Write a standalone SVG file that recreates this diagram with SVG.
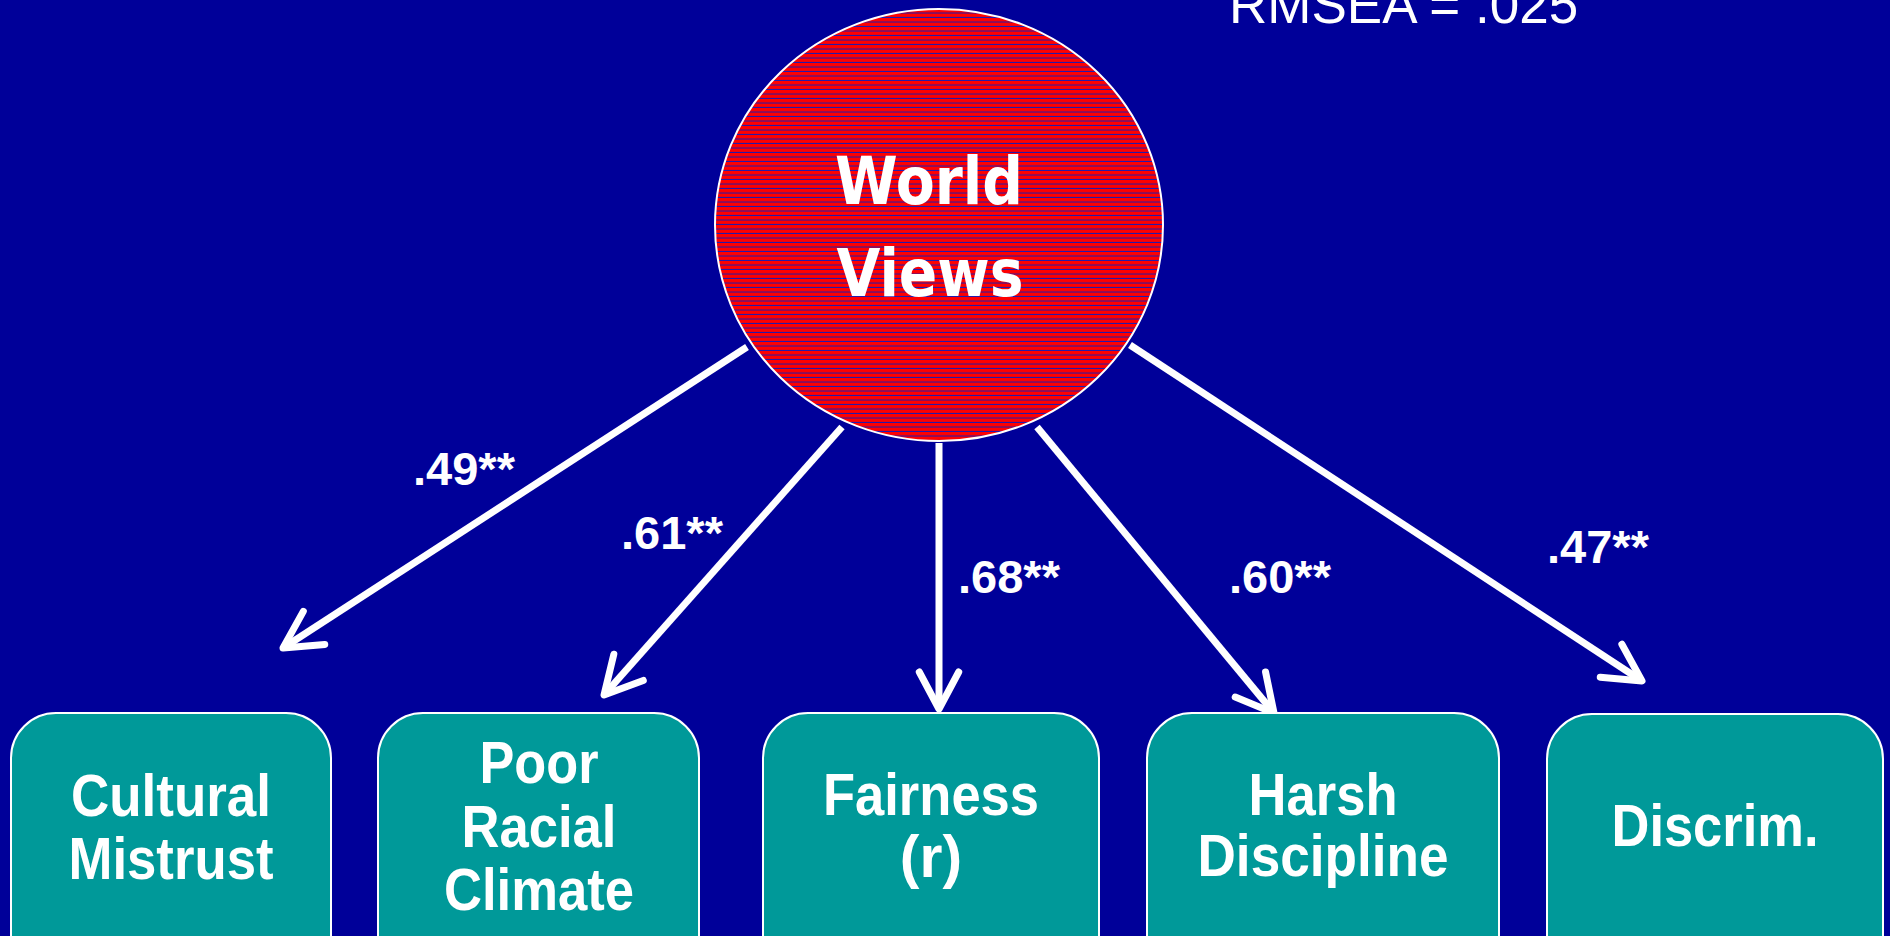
<svg xmlns="http://www.w3.org/2000/svg" width="1890" height="936" viewBox="0 0 1890 936">
<defs>
<pattern id="stripes" patternUnits="userSpaceOnUse" width="10" height="4.5">
<rect width="10" height="4.5" fill="#ff0000"/>
<rect y="3.5" width="10" height="1" fill="#1a1ab4"/>
</pattern>
<marker id="ah" markerUnits="userSpaceOnUse" markerWidth="60" markerHeight="60" viewBox="-50 -30 60 60" refX="0" refY="0" orient="auto" overflow="visible">
<path d="M-37,-19.7 L0,0 L-37,19.7" fill="none" stroke="#fff" stroke-width="7" stroke-linecap="round" stroke-linejoin="round"/>
</marker>
</defs>
<style>
.box{fill:#009999;stroke:#fff;stroke-width:2}
.bt{font-family:"Liberation Sans",Arial,sans-serif;font-weight:bold;font-size:59px;fill:#fff;text-anchor:middle}
.lbl{font-family:"Liberation Sans",Arial,sans-serif;font-weight:bold;font-size:47px;fill:#fff}
.conn{stroke:#fff;stroke-width:7;fill:none;stroke-linecap:butt;marker-end:url(#ah)}
</style>
<rect width="1890" height="936" fill="#000099"/>
<text x="1229" y="23" font-family="Liberation Sans,Arial,sans-serif" font-size="53" fill="#fff">RMSEA = .025</text>
<g id="connectors">
<line class="conn" x1="747" y1="347" x2="283" y2="648"/>
<line class="conn" x1="842" y1="427" x2="604" y2="695"/>
<line class="conn" x1="939" y1="443" x2="939" y2="709"/>
<line class="conn" x1="1037" y1="427" x2="1274" y2="713"/>
<line class="conn" x1="1130" y1="345" x2="1642" y2="681"/>
<text class="lbl" x="413" y="485">.49**</text>
<text class="lbl" x="621" y="549">.61**</text>
<text class="lbl" x="958" y="593">.68**</text>
<text class="lbl" x="1229" y="593">.60**</text>
<text class="lbl" x="1547" y="563">.47**</text>
</g>
<g id="world-views">
<ellipse cx="939" cy="225" rx="224" ry="216" fill="url(#stripes)" stroke="#fff" stroke-width="2"/>
<text x="929" y="204" font-family="DejaVu Sans,Verdana,sans-serif" font-weight="bold" font-size="65" fill="#fff" text-anchor="middle" textLength="188" lengthAdjust="spacingAndGlyphs">World</text>
<text x="930" y="296" font-family="DejaVu Sans,Verdana,sans-serif" font-weight="bold" font-size="65" fill="#fff" text-anchor="middle" textLength="187" lengthAdjust="spacingAndGlyphs">Views</text>
</g>
<g id="cultural-mistrust">
<rect class="box" x="11" y="713" width="320" height="280" rx="45"/>
<text class="bt" x="171" y="816" textLength="200" lengthAdjust="spacingAndGlyphs">Cultural</text>
<text class="bt" x="171" y="879" textLength="205" lengthAdjust="spacingAndGlyphs">Mistrust</text>
</g>
<g id="poor-racial-climate">
<rect class="box" x="378" y="713" width="321" height="280" rx="45"/>
<text class="bt" x="539" y="783" textLength="119" lengthAdjust="spacingAndGlyphs">Poor</text>
<text class="bt" x="539" y="847" textLength="155" lengthAdjust="spacingAndGlyphs">Racial</text>
<text class="bt" x="539" y="910" textLength="190" lengthAdjust="spacingAndGlyphs">Climate</text>
</g>
<g id="fairness">
<rect class="box" x="763" y="713" width="336" height="280" rx="45"/>
<text class="bt" x="931" y="815" textLength="216" lengthAdjust="spacingAndGlyphs">Fairness</text>
<text class="bt" x="931" y="877">(r)</text>
</g>
<g id="harsh-discipline">
<rect class="box" x="1147" y="713" width="352" height="280" rx="45"/>
<text class="bt" x="1323" y="815" textLength="149" lengthAdjust="spacingAndGlyphs">Harsh</text>
<text class="bt" x="1323" y="876" textLength="251" lengthAdjust="spacingAndGlyphs">Discipline</text>
</g>
<g id="discrim">
<rect class="box" x="1547" y="714" width="336" height="280" rx="45"/>
<text class="bt" x="1715" y="846" textLength="207" lengthAdjust="spacingAndGlyphs">Discrim.</text>
</g>
</svg>
